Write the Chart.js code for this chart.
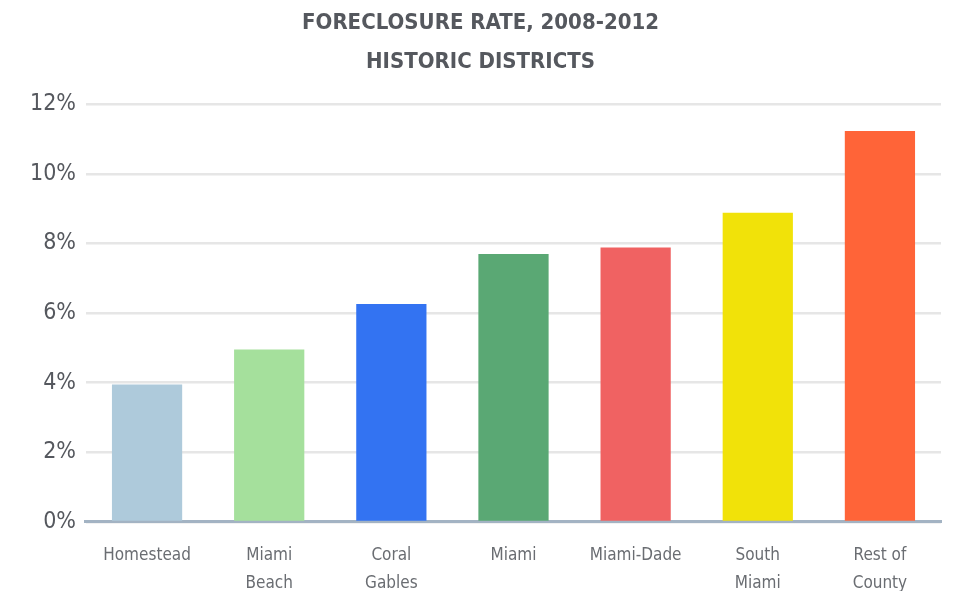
<!DOCTYPE html>
<html>
<head>
<meta charset="utf-8">
<script src="https://cdn.jsdelivr.net/npm/chart.js@4"></script>
<style>
  html, body { margin: 0; padding: 0; background: #fff; }
  #wrap { width: 955px; height: 591px; }
</style>
</head>
<body>
<div id="wrap"><canvas id="chart"></canvas></div>
<script>
const districts = [
  'Homestead', ['Miami', 'Beach'], ['Coral', 'Gables'], 'Miami',
  'Miami-Dade', ['South', 'Miami'], ['Rest of', 'County']
];
const rates = [3.95, 4.95, 6.26, 7.7, 7.88, 8.88, 11.23];
const barColors = ['#aecadb', '#a5e09c', '#3373f2', '#5aa874', '#f06262', '#f1e209', '#ff6438'];
const yTicks = [0, 2, 4, 6, 8, 10, 12];

const condensed = "'DejaVu Sans Condensed', 'DejaVu Sans', sans-serif";

const ctx = document.getElementById('chart').getContext('2d');
new Chart(ctx, {
  type: 'bar',
  data: {
    labels: districts,
    datasets: [{
      label: 'Foreclosure rate',
      data: rates,
      backgroundColor: barColors,
      borderWidth: 0,
      categoryPercentage: 1,
      barPercentage: 0.575
    }]
  },
  options: {
    responsive: true,
    maintainAspectRatio: false,
    animation: false,
    layout: { padding: { left: 20, right: 14, top: 0, bottom: -19 } },
    plugins: {
      legend: { display: false },
      tooltip: { enabled: false },
      title: {
        display: true,
        text: ['FORECLOSURE RATE, 2008-2012', 'HISTORIC DISTRICTS'],
        color: '#55585e',
        font: { family: condensed, size: 22, weight: 'bold', lineHeight: 1.8 },
        padding: { top: 3, bottom: 22 }
      }
    },
    scales: {
      x: {
        grid: { display: false },
        border: { color: '#a3b3c3', width: 3 },
        ticks: {
          color: '#6a6d72',
          font: { family: condensed, size: 17, lineHeight: 1.65 },
          padding: 12,
          maxRotation: 0
        }
      },
      y: {
        min: 0,
        max: 12,
        afterBuildTicks: (axis) => { axis.ticks = yTicks.map(v => ({ value: v })); },
        grid: { color: '#e6e6e6', lineWidth: 2.5, drawTicks: false },
        border: { display: false },
        ticks: {
          color: '#55585e',
          font: { family: condensed, size: 23 },
          padding: 10,
          callback: (v) => v + '%'
        }
      }
    }
  }
});
</script>
</body>
</html>
